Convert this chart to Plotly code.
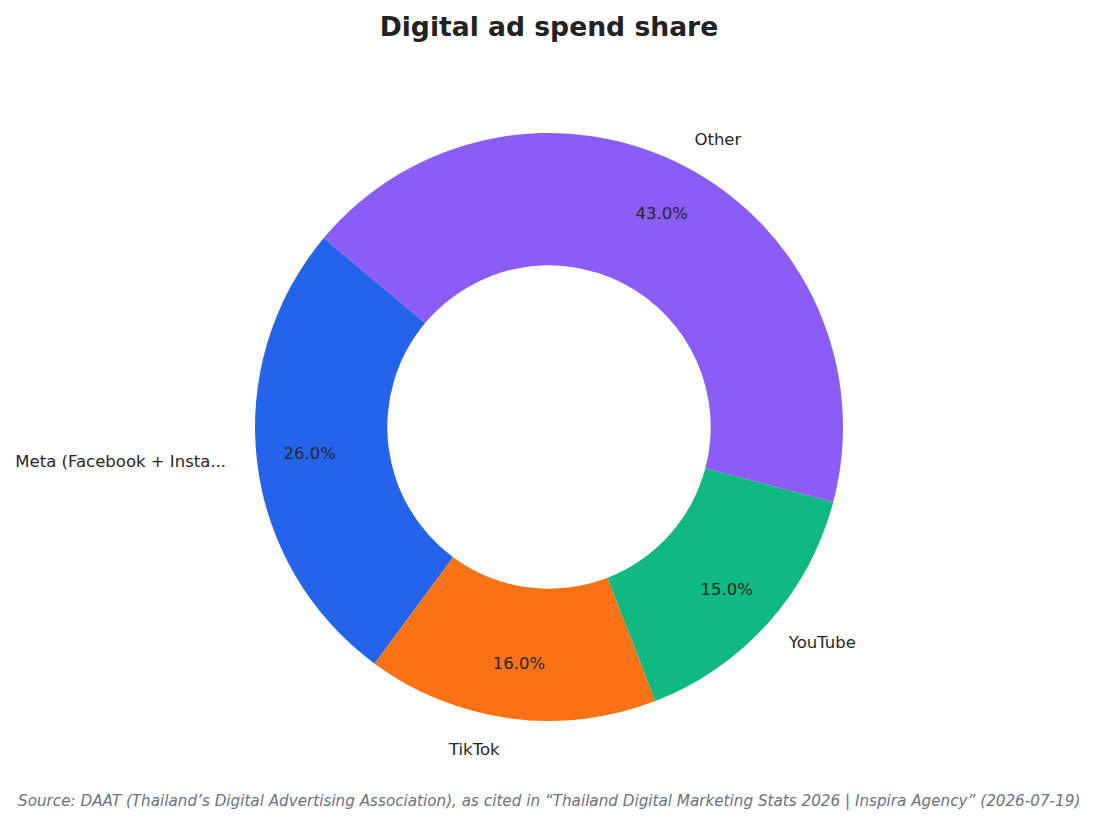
import plotly.graph_objects as go

# data
labels = ["Meta (Facebook + Insta...", "TikTok", "YouTube", "Other"]
shares = [26.0, 16.0, 15.0, 43.0]
colors = ["#2563EB", "#F97316", "#10B981", "#8B5CF6"]

title_text = "Digital ad spend share"
source_text = ("Source: DAAT (Thailand’s Digital Advertising Association), as cited in "
               "“Thailand Digital Marketing Stats 2026 | Inspira Agency” (2026-07-19)")

FONT = "DejaVu Sans"
TEXT_COLOR = "#262626"
ROT = -143.6

# outer labels sit a bit further from the ring (like labeldistance=1.1),
# percentages a bit further out than the ring middle (pctdistance ~0.8)
NB = "\u00a0"
pct = [f"{v:.1f}%" for v in shares]
inner_text = [
    pct[0] + NB * 5,
    NB + "<br>" + pct[1],
    NB + "<br>" + NB * 3 + pct[2],
    NB * 3 + pct[3] + "<br>" + NB,
]
outer_text = [
    labels[0] + NB * 5,
    NB + "<br>" + NB * 2 + labels[1],
    NB + "<br>" + NB * 2 + labels[2],
    labels[3] + "<br>" + NB,
]

fig = go.Figure()

# donut with percentages in the ring
fig.add_trace(go.Pie(
    labels=labels,
    values=shares,
    text=inner_text,
    hole=0.55,
    sort=False,
    direction="counterclockwise",
    rotation=ROT,
    marker=dict(colors=colors, line=dict(width=0)),
    texttemplate="%{text}",
    textposition="inside",
    insidetextorientation="horizontal",
    textfont=dict(family=FONT, size=16.5, color=TEXT_COLOR),
    showlegend=False,
    hoverinfo="label+percent",
))

# transparent copy that only carries the outside labels
fig.add_trace(go.Pie(
    labels=labels,
    values=shares,
    text=outer_text,
    hole=0.55,
    sort=False,
    direction="counterclockwise",
    rotation=ROT,
    marker=dict(colors=["rgba(0,0,0,0)"] * len(labels), line=dict(width=0)),
    texttemplate="%{text}",
    textposition="outside",
    textfont=dict(family=FONT, size=16.5, color=TEXT_COLOR),
    showlegend=False,
    hoverinfo="skip",
    automargin=False,
))

fig.update_layout(
    width=1096,
    height=824,
    paper_bgcolor="white",
    plot_bgcolor="white",
    margin=dict(l=43, r=57, t=125, b=111),
    title=dict(
        text="<b>" + title_text + "</b>",
        x=0.4936, xanchor="center",
        y=0.977, yanchor="middle",
        font=dict(family=FONT, size=26.6, color="#222222"),
    ),
    annotations=[dict(
        text="<i>" + source_text + "</i>",
        xref="paper", yref="paper",
        x=0.5, y=-0.136, xanchor="center", yanchor="middle",
        showarrow=False,
        font=dict(family=FONT, size=15.2, color="#6B7280"),
    )],
)

fig.write_html("out.html")
